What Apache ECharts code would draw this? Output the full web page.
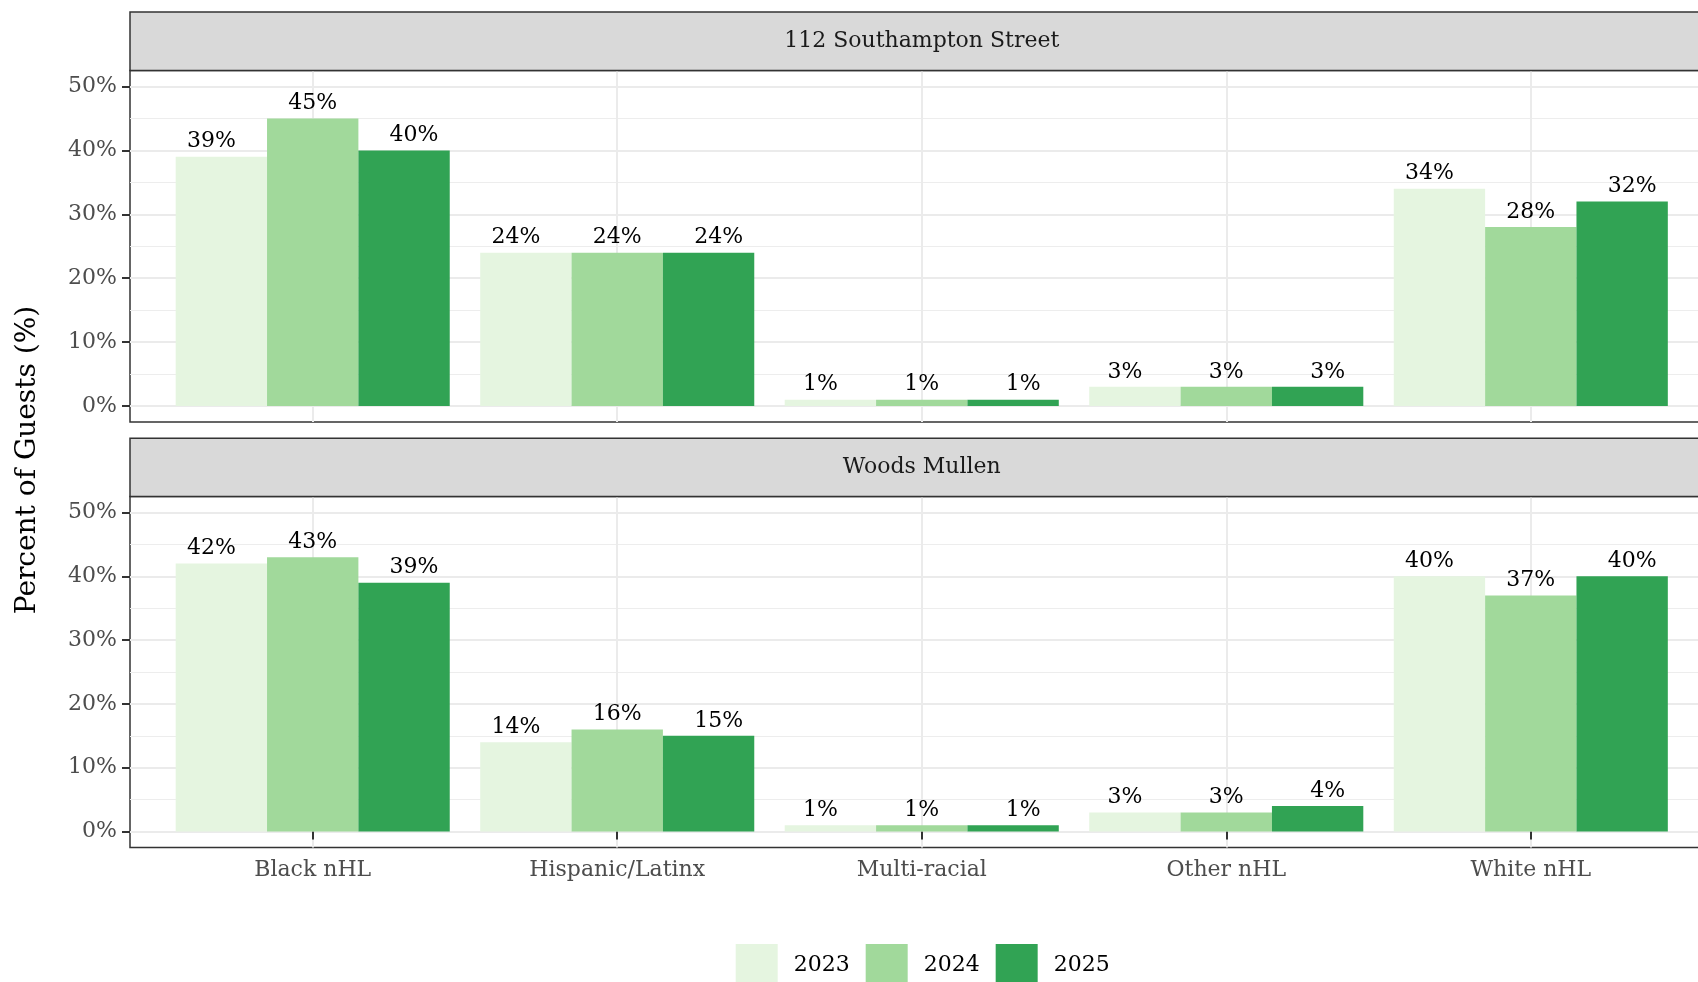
<!DOCTYPE html>
<html>
<head>
<meta charset="utf-8">
<script src="https://cdn.jsdelivr.net/npm/echarts@6/dist/echarts.min.js"></script>
<style>
  html, body { margin: 0; padding: 0; background: #ffffff; }
  #chart { width: 1698px; height: 982px; }
</style>
</head>
<body>
<div id="chart"></div>
<script>
// ---- data ----
const categories = ['Black nHL', 'Hispanic/Latinx', 'Multi-racial', 'Other nHL', 'White nHL'];
const years = ['2023', '2024', '2025'];
const facets = ['112 Southampton Street', 'Woods Mullen'];
const southampton2023 = [39, 24, 1, 3, 34];
const southampton2024 = [45, 24, 1, 3, 28];
const southampton2025 = [40, 24, 1, 3, 32];
const woods2023 = [42, 14, 1, 3, 40];
const woods2024 = [43, 16, 1, 3, 37];
const woods2025 = [39, 15, 1, 4, 40];
const yTicks = [0, 10, 20, 30, 40, 50];
const yMinorTicks = [5, 15, 25, 35, 45];
const xTicks = [1, 2, 3, 4, 5];

// ---- styling ----
const FONT = '"DejaVu Serif", serif';
const colors = ['#E5F5E0', '#A1D99B', '#31A354'];
const labelShift = [-10, 0, 10];
const facetValues = [
  [southampton2023, southampton2024, southampton2025],
  [woods2023, woods2024, woods2025]
];

const gridLeft = 130;
const gridWidth = 1583.5;
const grids = [
  { top: 70.5, height: 351.5 },
  { top: 496.5, height: 351 }
];
const strips = [
  { top: 12, bottom: 70.5 },
  { top: 438.3, bottom: 496.5 }
];

const chart = echarts.init(document.getElementById('chart'), null, { renderer: 'canvas' });

const gridOpt = grids.map(g => ({
  left: gridLeft, width: gridWidth, top: g.top, height: g.height,
  show: true, borderColor: '#333333', borderWidth: 1.5, backgroundColor: 'transparent',
  containLabel: false, outerBoundsMode: 'none'
}));

const xAxes = grids.map((g, gi) => ({
  type: 'value', gridIndex: gi, min: 0.4, max: 5.6,
  axisLine: { show: false },
  axisTick: gi === 1
    ? { show: true, customValues: xTicks, length: 8, lineStyle: { color: '#333333', width: 2 } }
    : { show: false, customValues: xTicks, length: 0, lineStyle: { color: 'rgba(0,0,0,0)', width: 0 } },
  axisLabel: {
    show: gi === 1, customValues: xTicks, margin: 12,
    formatter: v => categories[Math.round(v) - 1] || '',
    fontFamily: FONT, fontSize: 22, color: '#4D4D4D'
  },
  splitLine: { show: true, lineStyle: { color: '#EBEBEB', width: 2 } }
}));

const yAxes = [];
grids.forEach((g, gi) => {
  yAxes.push({
    type: 'value', gridIndex: gi, min: -2.5, max: 52.5, position: 'left',
    axisLine: { show: false },
    axisTick: { show: true, customValues: yTicks, length: 8, lineStyle: { color: '#333333', width: 2 } },
    axisLabel: {
      show: true, customValues: yTicks, margin: 13,
      formatter: v => v + '%',
      fontFamily: FONT, fontSize: 22, color: '#4D4D4D', padding: [4, 0, 0, 0]
    },
    splitLine: { show: true, lineStyle: { color: '#EBEBEB', width: 2 } }
  });
  yAxes.push({
    type: 'value', gridIndex: gi, min: -2.5, max: 52.5, position: 'right',
    axisLine: { show: false },
    axisTick: { show: false, customValues: yMinorTicks },
    axisLabel: { show: false, customValues: yMinorTicks },
    splitLine: { show: true, lineStyle: { color: '#EDEDED', width: 1.2 } }
  });
});

const series = [];
facetValues.forEach((yearVals, gi) => {
  yearVals.forEach((vals, yi) => {
    series.push({
      type: 'bar', name: years[yi],
      xAxisIndex: gi, yAxisIndex: gi * 2,
      data: vals.map((v, i) => [xTicks[i], v]),
      barWidth: '30%', barGap: '0%',
      itemStyle: { color: colors[yi] },
      label: {
        show: true, position: 'top', distance: 4, offset: [labelShift[yi], 0],
        formatter: p => p.value[1] + '%',
        fontFamily: FONT, fontSize: 22, color: '#000000'
      },
      emphasis: { disabled: true }
    });
  });
});

const graphics = [];
strips.forEach((s, i) => {
  graphics.push({
    type: 'rect', z: 10,
    shape: { x: gridLeft, y: s.top, width: gridWidth, height: s.bottom - s.top },
    style: { fill: '#D9D9D9', stroke: '#333333', lineWidth: 1.5 }
  });
  graphics.push({
    type: 'text', z: 11,
    x: gridLeft + gridWidth / 2, y: (s.top + s.bottom) / 2,
    style: {
      text: facets[i], fill: '#1A1A1A', font: '22px ' + FONT,
      textAlign: 'center', textVerticalAlign: 'middle', align: 'center', verticalAlign: 'middle'
    }
  });
});
graphics.push({
  type: 'text', z: 11, x: 28, y: 460, rotation: Math.PI / 2,
  style: {
    text: 'Percent of Guests (%)', fill: '#000000', font: '28px ' + FONT,
    textAlign: 'center', textVerticalAlign: 'middle', align: 'center', verticalAlign: 'middle'
  }
});

chart.setOption({
  backgroundColor: '#ffffff',
  animation: false,
  grid: gridOpt,
  xAxis: xAxes,
  yAxis: yAxes,
  legend: {
    data: years, left: 735.7, top: 944, orient: 'horizontal', padding: 0,
    icon: 'rect', itemWidth: 42, itemHeight: 42, itemGap: 16,
    selectedMode: false,
    textStyle: { fontFamily: FONT, fontSize: 22, color: '#000000', padding: [0, 0, 0, 11] }
  },
  series: series,
  graphic: graphics
});
</script>
</body>
</html>
